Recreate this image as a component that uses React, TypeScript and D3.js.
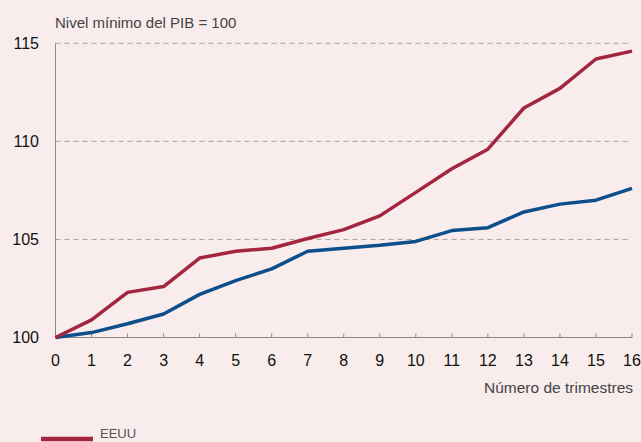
import React from "react";
import * as d3 from "d3";

const quarters = d3.range(0, 17);
const eeuu = [100, 100.9, 102.3, 102.6, 104.05, 104.4, 104.55, 105.05, 105.5, 106.2, 107.4, 108.6, 109.6, 111.7, 112.7, 114.2, 114.6];
const other = [100, 100.25, 100.7, 101.2, 102.2, 102.9, 103.5, 104.4, 104.55, 104.7, 104.9, 105.45, 105.6, 106.4, 106.8, 107.0, 107.6];
const yTicks = [100, 105, 110, 115];

const W = 641, H = 442;
const left = 55.5, right = 632, top = 43.3, bottom = 337.5;

export default function App() {
  const x = d3.scaleLinear().domain([0, 16]).range([left, right]);
  const y = d3.scaleLinear().domain([100, 115]).range([bottom, top]);
  const line = d3.line<number>().x((_, i) => x(quarters[i])).y((d) => y(d));
  const font = "'Liberation Sans', Arial, Helvetica, sans-serif";
  return (
    <svg width={W} height={H} style={{ position: "absolute", left: 0, top: 0 }} fontFamily={font}>
      <rect width={W} height={H} fill="#f8ecec" />
      <text x={55} y={28} fontSize={15} fill="#444">Nivel mínimo del PIB = 100</text>
      {yTicks.filter((t) => t > 100).map((t) => (
        <line key={t} x1={left} x2={628} y1={y(t)} y2={y(t)} stroke="#a8a0a0" strokeWidth={1} strokeDasharray="5,4" />
      ))}
      {yTicks.map((t) => (
        <text key={t} x={39} y={y(t) + 5.5} fontSize={16} textAnchor="end" fill="#111">{t}</text>
      ))}
      <line x1={left} x2={left} y1={top} y2={bottom} stroke="#888" strokeWidth={1} />
      <line x1={left} x2={right} y1={bottom} y2={bottom} stroke="#888" strokeWidth={1.2} />
      {quarters.map((q) => (
        <g key={q}>
          {q > 0 && <line x1={x(q)} x2={x(q)} y1={bottom - 4} y2={bottom} stroke="#888" strokeWidth={1} />}
          <text x={x(q)} y={366} fontSize={16} textAnchor="middle" fill="#111">{q}</text>
        </g>
      ))}
      <text x={633} y={393} fontSize={15.5} textAnchor="end" fill="#444">Número de trimestres</text>
      <path d={line(other) || ""} fill="none" stroke="#0d4f8b" strokeWidth={3.5} strokeLinejoin="round" />
      <path d={line(eeuu) || ""} fill="none" stroke="#a3263f" strokeWidth={3.5} strokeLinejoin="round" />
      <line x1={41} x2={93} y1={439} y2={439} stroke="#a3263f" strokeWidth={4.5} />
      <text x={100} y={438} fontSize={13} fill="#555">EEUU</text>
    </svg>
  );
}
